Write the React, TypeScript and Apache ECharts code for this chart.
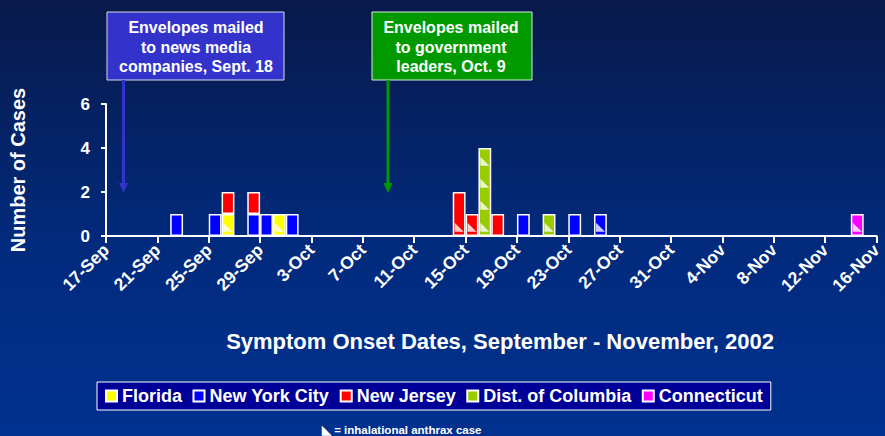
import React, { useEffect, useRef } from 'react';
import * as echarts from 'echarts';

const FONT = '"Liberation Sans", Arial, Helvetica, sans-serif';

// Tick labels of the date axis (one every 4 days, starting 17-Sep)
const tickLabels = [
  '17-Sep', '21-Sep', '25-Sep', '29-Sep', '3-Oct', '7-Oct', '11-Oct', '15-Oct',
  '19-Oct', '23-Oct', '27-Oct', '31-Oct', '4-Nov', '8-Nov', '12-Nov', '16-Nov',
];

// Cases by symptom onset date
const florida: [string, number][] = [['Sep 26', 1], ['Sep 30', 1]];
const newYorkCity: [string, number][] = [
  ['Sep 22', 1], ['Sep 25', 1], ['Sep 28', 1], ['Sep 29', 1], ['Oct 1', 1],
  ['Oct 19', 1], ['Oct 23', 1], ['Oct 25', 1],
];
const newJersey: [string, number][] = [
  ['Sep 26', 1], ['Sep 28', 1], ['Oct 14', 2], ['Oct 15', 1], ['Oct 17', 1],
];
const distColumbia: [string, number][] = [['Oct 16', 4], ['Oct 21', 1]];
const connecticut: [string, number][] = [['Nov 14', 1]];

// Inhalational cases: date and the case's level in the stacked column (0 = bottom)
const inhalational: [string, number][] = [
  ['Sep 26', 0], ['Sep 30', 0], ['Oct 14', 0], ['Oct 15', 0],
  ['Oct 16', 0], ['Oct 16', 1], ['Oct 16', 2], ['Oct 16', 3],
  ['Oct 21', 0], ['Oct 25', 0], ['Nov 14', 0],
];

const stateNames = ['Florida', 'New York City', 'New Jersey', 'Dist. of Columbia', 'Connecticut'];
const stateColors = ['#ffff00', '#0000ff', '#ff0000', '#99cc00', '#ff00ff'];
const stateData = [florida, newYorkCity, newJersey, distColumbia, connecticut];

const NUM_DAYS = 60;
const MONTH_BASE: Record<string, number> = { Sep: -17, Oct: 13, Nov: 44 };
function dayIndex(d: string): number {
  const [m, dd] = d.split(' ');
  return MONTH_BASE[m] + Number(dd);
}
const dayCategories = Array.from({ length: NUM_DAYS }, (_, i) => String(i));

function toSeriesData(list: [string, number][]) {
  const arr: (number | string)[] = new Array(NUM_DAYS).fill('-');
  list.forEach(([d, v]) => {
    arr[dayIndex(d)] = v;
  });
  return arr;
}

export default function App() {
  const ref = useRef<HTMLDivElement>(null);

  useEffect(() => {
    if (!ref.current) return;
    const chart = echarts.init(ref.current, undefined, { renderer: 'svg' });

    const barSeries = stateNames.map((name, i) => ({
      type: 'bar',
      name,
      stack: 'cases',
      xAxisIndex: 0,
      yAxisIndex: 0,
      data: toSeriesData(stateData[i]),
      barWidth: '100%',
      itemStyle: { color: stateColors[i], borderColor: '#ffffff', borderWidth: 1.5 },
      emphasis: { disabled: true },
    }));

    const option: any = {
      animation: false,
      backgroundColor: 'transparent',
      grid: { left: 105, right: 3, top: 104, bottom: 200, containLabel: false },
      legend: {
        data: stateNames,
        left: 97,
        top: 382,
        icon: 'rect',
        itemWidth: 11,
        itemHeight: 11,
        itemGap: 10.5,
        backgroundColor: '#000099',
        borderColor: '#ffffff',
        borderWidth: 1,
        borderRadius: 0,
        padding: [5, 8],
        selectedMode: false,
        textStyle: { color: '#ffffff', fontWeight: 'bold', fontSize: 18, fontFamily: FONT },
      },
      xAxis: [
        {
          type: 'category',
          data: dayCategories,
          boundaryGap: true,
          show: false,
        },
        {
          type: 'value',
          position: 'bottom',
          min: 0,
          max: 60,
          interval: 4,
          axisLine: { show: true, onZero: false, lineStyle: { color: '#ffffff', width: 2 } },
          axisTick: { show: true, length: 7, lineStyle: { color: '#ffffff', width: 2 } },
          splitLine: { show: false },
          axisLabel: {
            rotate: 45,
            margin: 11,
            color: '#ffffff',
            fontWeight: 'bold',
            fontSize: 17.5,
            fontFamily: FONT,
            formatter: (v: number) => tickLabels[Math.round(v / 4)] ?? '',
          },
        },
      ],
      yAxis: {
        type: 'value',
        min: 0,
        max: 6,
        interval: 2,
        axisLine: { show: true, lineStyle: { color: '#ffffff', width: 2 } },
        axisTick: { show: true, length: 5, lineStyle: { color: '#ffffff', width: 2 } },
        splitLine: { show: false },
        axisLabel: { color: '#ffffff', fontWeight: 'bold', fontSize: 17, fontFamily: FONT, margin: 16 },
        name: 'Number of Cases',
        nameLocation: 'middle',
        nameGap: 78,
        nameTextStyle: { color: '#ffffff', fontWeight: 'bold', fontSize: 20, fontFamily: FONT },
      },
      series: [
        ...barSeries,
        {
          type: 'scatter',
          name: 'Inhalational',
          xAxisIndex: 0,
          yAxisIndex: 0,
          data: inhalational.map(([d, lvl]) => [dayIndex(d), lvl + 0.4]),
          symbol: 'path://M0,0L0,10L10,10Z',
          symbolSize: 9,
          itemStyle: { color: '#ffffff' },
          z: 5,
          emphasis: { disabled: true },
        },
      ],
      graphic: [
        {
          type: 'rect',
          shape: { x: 107, y: 12, width: 177, height: 68 },
          style: { fill: '#3333cc', stroke: '#d8d8e8', lineWidth: 1 },
        },
        {
          type: 'text',
          x: 196,
          y: 18,
          style: {
            text: 'Envelopes mailed\nto news media\ncompanies, Sept. 18',
            fill: '#ffffff',
            font: `bold 16px ${FONT}`,
            align: 'center',
            verticalAlign: 'top',
            lineHeight: 19.5,
          },
        },
        {
          type: 'line',
          shape: { x1: 123.5, y1: 80, x2: 123.5, y2: 185 },
          style: { stroke: '#3333cc', lineWidth: 3 },
        },
        {
          type: 'polygon',
          shape: { points: [[119, 183], [128, 183], [123.5, 193]] },
          style: { fill: '#3333cc' },
        },
        {
          type: 'rect',
          shape: { x: 372, y: 12, width: 160, height: 68 },
          style: { fill: '#009900', stroke: '#d8e8d8', lineWidth: 1 },
        },
        {
          type: 'text',
          x: 451,
          y: 18,
          style: {
            text: 'Envelopes mailed\nto government\nleaders, Oct. 9',
            fill: '#ffffff',
            font: `bold 16px ${FONT}`,
            align: 'center',
            verticalAlign: 'top',
            lineHeight: 19.5,
          },
        },
        {
          type: 'line',
          shape: { x1: 388, y1: 80, x2: 388, y2: 185 },
          style: { stroke: '#009900', lineWidth: 3 },
        },
        {
          type: 'polygon',
          shape: { points: [[383.5, 183], [392.5, 183], [388, 193]] },
          style: { fill: '#009900' },
        },
        {
          type: 'text',
          x: 500,
          y: 341,
          style: {
            text: 'Symptom Onset Dates, September - November, 2002',
            fill: '#ffffff',
            font: `bold 22px ${FONT}`,
            align: 'center',
            verticalAlign: 'middle',
          },
        },
        {
          type: 'text',
          x: 322,
          y: 430,
          style: {
            text: '◣ = inhalational anthrax case',
            fill: '#ffffff',
            font: `bold 11.5px ${FONT}`,
            align: 'left',
            verticalAlign: 'middle',
          },
        },
      ],
    };

    chart.setOption(option);
    return () => {
      chart.dispose();
    };
  }, []);

  return (
    <div
      ref={ref}
      style={{
        position: 'fixed',
        left: 0,
        top: 0,
        width: 885,
        height: 436,
        background: 'linear-gradient(180deg, #08194a 0%, #022a7c 55%, #00318f 100%)',
      }}
    />
  );
}
